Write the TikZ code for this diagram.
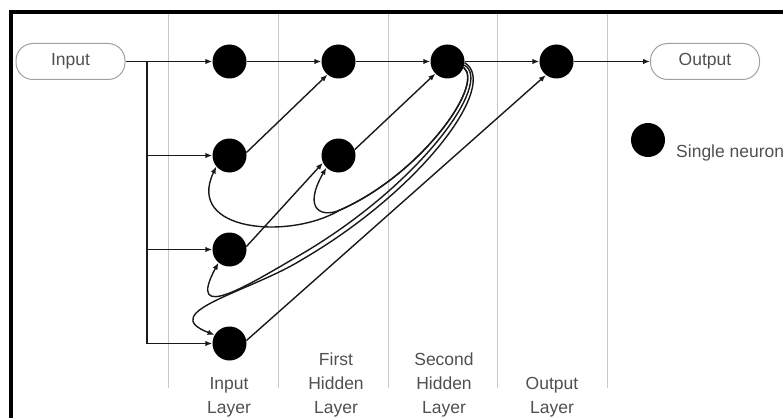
\documentclass[tikz,border=0pt]{standalone}
\usepackage{fontspec}
\setmainfont{Liberation Sans}
\usetikzlibrary{positioning,arrows.meta}
\definecolor{LabelGray}{RGB}{80,80,80}
\definecolor{LineDark}{RGB}{25,25,25}
\definecolor{GridGray}{RGB}{200,200,200}
\definecolor{BoxGray}{RGB}{160,160,160}

\begin{document}
\begin{tikzpicture}[x=1pt, y=1pt,
    neuron/.style={circle, fill=black, minimum size=34pt, inner sep=0pt},
    endbox/.style={rectangle, rounded corners=17pt, draw=BoxGray, line width=1pt,
        minimum width=109pt, minimum height=36pt,
        font=\fontsize{17.5}{21}\selectfont, text=LabelGray},
    arr/.style={-{Latex[length=7pt, width=5.5pt]}, line width=1.4pt, LineDark},
    layerlabel/.style={font=\fontsize{17.5}{24}\selectfont, text=LabelGray,
        align=center, anchor=south, inner sep=0pt},
    node distance=94pt and 109pt, on grid
]
\useasboundingbox (0,0) rectangle (783,-417);

% Frame and layer separators
\draw[line width=4pt] (11,-420) -- (11,-12) -- (790,-12);
\foreach \x in {168,278,388,497,607}
    \draw[GridGray, line width=0.9pt] (\x,-14) -- (\x,-388);

\node[endbox] (in) at (70.5,-61.5) {Input};
\node[neuron] (i1) at (229.5,-61.5) {};
\node[neuron, below=of i1] (i2) {};
\node[neuron, below=of i2] (i3) {};
\node[neuron, below=of i3] (i4) {};
\node[neuron, right=of i1] (h1) {};
\node[neuron, below=of h1] (h2) {};
\node[neuron, right=of h1] (s1) {};
\node[neuron, right=of s1] (o1) {};
\node[endbox] (out) at (705,-61.5) {Output};
\coordinate (split) at (147,-61.5);

% Legend
\node[neuron] (key) at (648,-140) {};
\node[anchor=base west, inner sep=0pt, font=\fontsize{17.5}{21}\selectfont,
    text=LabelGray] (keytext) at (676,-157) {Single neuron};

\draw[arr] (in) -- (i1);
\draw[arr] (split) |- (i2);
\draw[arr] (split) |- (i3);
\draw[arr] (split) |- (i4);
\draw[arr] (i1) -- (h1);
\draw[arr] (h1) -- (s1);
\draw[arr] (s1) -- (o1);
\draw[arr] (o1) -- (out);

\draw[arr] (i2.10) -- (h1.-130);
\draw[arr] (i3.10) -- (h2.-155);
\draw[arr] (h2.20) -- (s1.-135);
\draw[arr] (i4.10) -- (o1.-128);

% Feedback from second hidden layer
\draw[arr] (s1.-20) .. controls (485,-85) and (420,-175) .. (340,-210)
    .. controls (290,-240) and (185,-232) .. (i2.-140);
\draw[arr] (s1.-20) .. controls (485,-85) and (420,-175) .. (340,-210)
    .. controls (322,-218) and (302,-210) .. (h2.-135);
\draw[arr] (s1.-12) .. controls (494,-82) and (420,-185) .. (300,-255)
    .. controls (250,-284) and (185,-325) .. (i3.-130);
\draw[arr] (s1.-4) .. controls (500,-84) and (422.5,-189.3) .. (302.5,-259.3)
    .. controls (250,-292) and (155,-312) .. (i4.150);

\node[layerlabel] (linput) at (229,-417) {Input\\Layer};
\node[layerlabel] (lfirst) at (336,-417) {First\\Hidden\\Layer};
\node[layerlabel] (lsecond) at (444,-417) {Second\\Hidden\\Layer};
\node[layerlabel] (loutput) at (552,-417) {Output\\Layer};
\end{tikzpicture}
\end{document}
